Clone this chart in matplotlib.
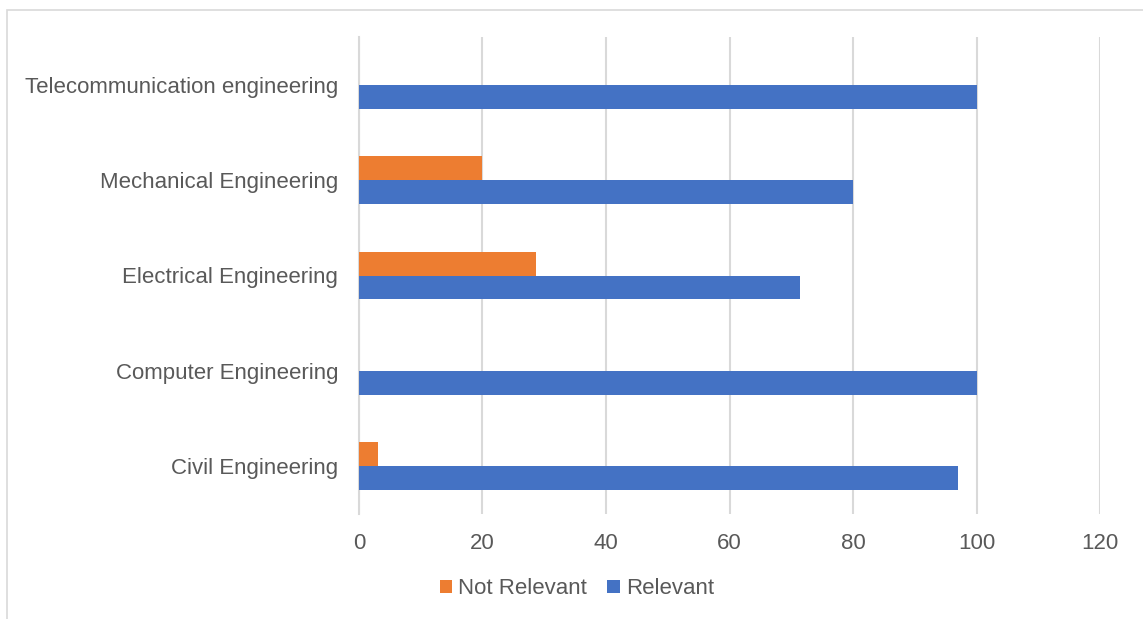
import matplotlib.pyplot as plt
from matplotlib.patches import Rectangle
import numpy as np

plt.rcParams['font.family'] = ['Liberation Sans', 'DejaVu Sans']

categories = ['Civil Engineering', 'Computer Engineering', 'Electrical Engineering',
              'Mechanical Engineering', 'Telecommunication engineering']
not_relevant = [3, 0, 28.6, 20, 0]
relevant = [97, 100, 71.4, 80, 100]
xticks = [0, 20, 40, 60, 80, 100, 120]

W, H = 1143, 619
fig = plt.figure(figsize=(W / 100, H / 100), dpi=100)
ax = fig.add_axes([359 / W, 1 - 513.6 / H, (1100 - 359) / W, (513.6 - 37.4) / H])

y = np.arange(len(categories))
h = 0.25
ax.barh(y + h / 2, not_relevant, height=h, color='#ED7D31', label='Not Relevant', zorder=3)
ax.barh(y - h / 2, relevant, height=h, color='#4472C4', label='Relevant', zorder=3)

ax.set_xlim(0, 120)
ax.set_ylim(-0.5, len(categories) - 0.5)
ax.set_xticks(xticks)
ax.set_yticks(y)
ax.set_yticklabels(categories)
ax.grid(axis='x', color='#d9d9d9', linewidth=1.5, zorder=0)
ax.tick_params(length=0, labelsize=16, colors='#595959')
ax.tick_params(axis='y', pad=15)
ax.tick_params(axis='x', pad=14)
for s in ['top', 'right', 'bottom']:
    ax.spines[s].set_visible(False)
ax.spines['left'].set_color('#d9d9d9')
ax.spines['left'].set_linewidth(1.5)

leg = fig.legend(loc='center', bbox_to_anchor=(577 / W, 1 - 589 / H), ncol=2, frameon=False,
                 fontsize=16, handlelength=0.55, handleheight=0.55, handletextpad=0.3,
                 columnspacing=0.9)
for t in leg.get_texts():
    t.set_color('#595959')

# outer chart border
fig.patches.append(Rectangle((7 / W, -0.1), 1.2, 1.1 - 10 / H, transform=fig.transFigure,
                             fill=False, edgecolor='#d9d9d9', linewidth=1.2))

fig.savefig('out.png', dpi=100)
